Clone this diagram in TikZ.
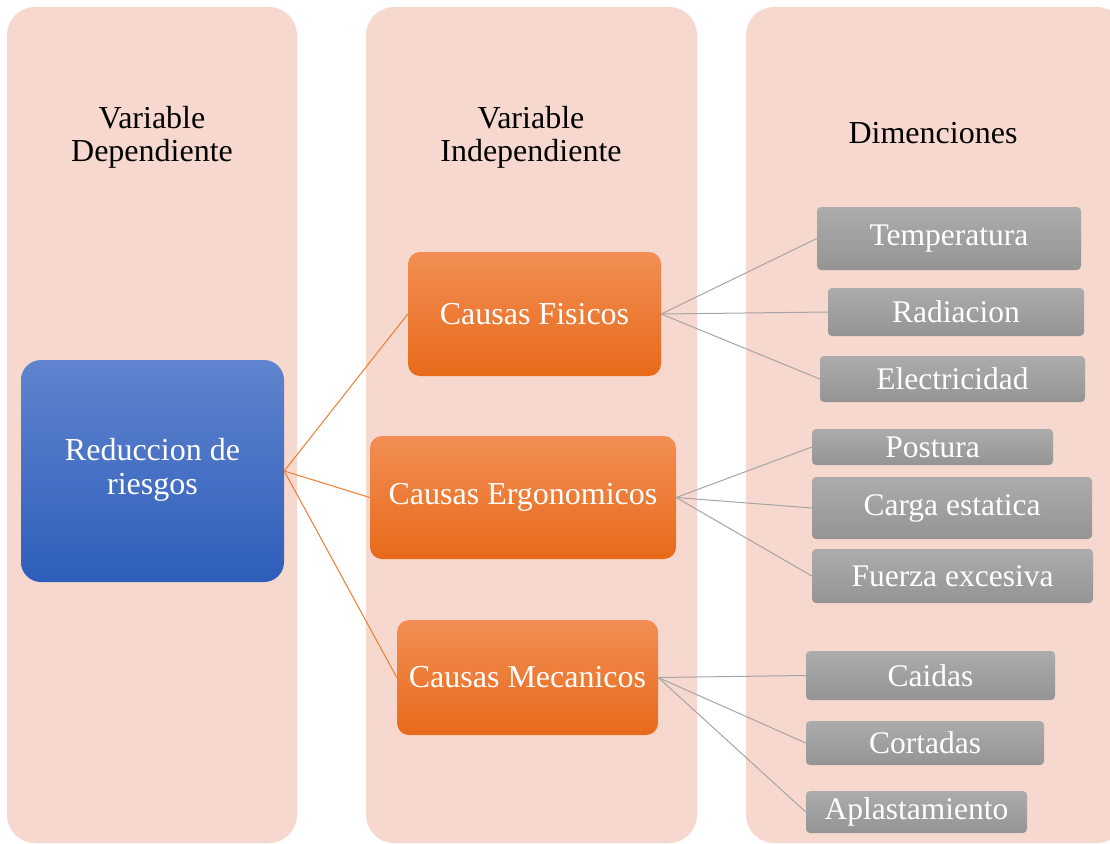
\documentclass[tikz,border=0pt]{standalone}
\usepackage{fontspec}
\setmainfont{Liberation Serif}
\usepackage{tikz}
\usetikzlibrary{positioning}
\definecolor{colbg}{RGB}{247,216,206}
\definecolor{orgtop}{RGB}{242,142,84}
\definecolor{orgbot}{RGB}{232,106,26}
\definecolor{blutop}{RGB}{96,132,206}
\definecolor{blubot}{RGB}{46,94,186}
\definecolor{grytop}{RGB}{172,172,172}
\definecolor{grybot}{RGB}{148,148,148}
\definecolor{orgline}{RGB}{237,125,49}
\definecolor{gryline}{RGB}{165,165,165}
\tikzset{
  coltxt/.style={font=\fontsize{32}{33}\selectfont, align=center},
  mainbox/.style={shade, top color=blutop, bottom color=blubot, rounded corners=20pt,
    text=white, font=\fontsize{32}{34}\selectfont, inner sep=0pt},
  causebox/.style={shade, top color=orgtop, bottom color=orgbot, rounded corners=12pt,
    text=white, font=\fontsize{32}{33}\selectfont, inner sep=0pt},
  dimbox/.style={shade, top color=grytop, bottom color=grybot, rounded corners=4pt,
    text=white, font=\fontsize{31.5}{33}\selectfont, inner sep=0pt},
  orgcon/.style={draw=orgline, line width=1pt},
  grycon/.style={draw=gryline, line width=1pt}
}
\begin{document}
\begin{tikzpicture}[x=1pt,y=-1pt]
\useasboundingbox (0,0) rectangle (1110,843);
% columnas
\fill[colbg, rounded corners=28pt] (7,7) rectangle (297,843);
\fill[colbg, rounded corners=28pt] (366,7) rectangle (697,843);
\fill[colbg, rounded corners=28pt] (746,7) rectangle (1125,843);
\node[coltxt] (dep) at (152,137) {Variable\\Dependiente};
\node[coltxt] (indep) at (531,137) {Variable\\Independiente};
\node[coltxt] (dim) at (933,133) {Dimenciones};
%
\node[mainbox, minimum width=263pt, minimum height=222pt] (red) at (152.5,471)
  {\raisebox{-4pt}{\begin{tabular}{@{}c@{}}Reduccion de\\riesgos\end{tabular}}};
%
\node[causebox, minimum width=253pt, minimum height=124pt] (fis) at (534.5,314) {Causas Fisicos};
\node[causebox, minimum width=306pt, minimum height=123pt] (erg) at (523,497.5) {Causas Ergonomicos};
\node[causebox, minimum width=261pt, minimum height=115pt] (mec) at (527.5,677.5) {Causas Mecanicos};
%
\node[dimbox, minimum width=264pt, minimum height=63pt] (temp) at (949,238.5) {Temperatura};
\node[dimbox, minimum width=256pt, minimum height=48pt] (rad) at (956,312) {Radiacion};
\node[dimbox, minimum width=265pt, minimum height=46pt] (elec) at (952.5,379) {Electricidad};
%
\node[dimbox, minimum width=241pt, minimum height=36pt] (pos) at (932.5,447) {Postura};
\node[dimbox, minimum width=280pt, minimum height=62pt] (carga) at (952,508) {Carga estatica};
\node[dimbox, minimum width=281pt, minimum height=54pt] (fuer) at (952.5,576) {Fuerza excesiva};
%
\node[dimbox, minimum width=249pt, minimum height=49pt] (cai) at (930.5,675.5) {Caidas};
\node[dimbox, minimum width=238pt, minimum height=44pt] (cor) at (925,743) {Cortadas};
\node[dimbox, minimum width=221pt, minimum height=42pt] (apl) at (916.5,812) {Aplastamiento};
%
\draw[orgcon] (red.east) -- (fis.west);
\draw[orgcon] (red.east) -- (erg.west);
\draw[orgcon] (red.east) -- (mec.west);
%
\draw[grycon] (fis.east) -- (temp.west);
\draw[grycon] (fis.east) -- (rad.west);
\draw[grycon] (fis.east) -- (elec.west);
\draw[grycon] (erg.east) -- (pos.west);
\draw[grycon] (erg.east) -- (carga.west);
\draw[grycon] (erg.east) -- (fuer.west);
\draw[grycon] (mec.east) -- (cai.west);
\draw[grycon] (mec.east) -- (cor.west);
\draw[grycon] (mec.east) -- (apl.west);
\end{tikzpicture}
\end{document}
